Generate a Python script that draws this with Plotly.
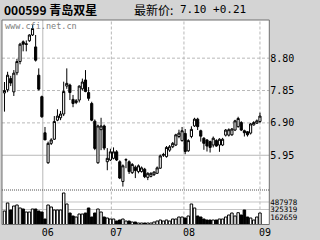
import plotly.graph_objects as go

W, H = 320, 240

# ---------------- data ----------------
opens = [7.78, 7.87, 8.20, 7.81, 8.37, 8.70, 9.28, 9.20, 9.31, 9.48,
         9.13, 8.30, 7.67, 6.61, 5.73, 6.30, 6.42, 6.98, 7.05, 7.16, 7.98,
         8.01, 7.59, 7.50, 7.57, 7.90, 8.16, 7.79, 7.47, 6.95, 5.73, 6.70,
         6.81, 5.76, 5.81, 5.86, 6.05, 5.76, 5.18, 5.81, 5.76, 5.44,
         5.60, 5.47, 5.47, 5.54, 5.30, 5.33, 5.38, 5.42, 5.57, 5.95,
         5.91, 6.10, 6.20, 6.25, 6.50, 6.38, 6.59, 6.08, 6.50, 6.81,
         7.01, 6.67, 6.45, 6.40, 6.35, 6.25, 6.38, 6.25, 6.25, 6.54,
         6.54, 6.55, 6.69, 6.79, 6.91, 6.67, 6.64, 6.60, 6.84, 6.89,
         6.94]
highs = [8.10, 8.40, 8.28, 8.45, 8.78, 9.25, 9.32, 9.32, 9.50, 9.77,
         9.48, 8.50, 7.70, 6.78, 6.35, 6.45, 7.10, 7.30, 7.25, 8.11, 8.50,
         8.05, 7.72, 7.60, 8.00, 8.20, 8.45, 7.95, 7.52, 7.00, 6.85, 7.05,
         6.85, 6.16, 6.14, 6.18, 6.10, 5.80, 5.68, 5.86, 5.80, 5.72,
         5.65, 5.68, 5.62, 5.58, 5.45, 5.45, 5.47, 5.62, 5.97, 6.02,
         6.22, 6.25, 6.34, 6.58, 6.70, 6.78, 6.72, 6.42, 6.80, 7.05,
         7.05, 6.70, 6.48, 6.42, 6.38, 6.50, 6.42, 6.45, 6.46, 6.72,
         6.74, 6.75, 6.99, 7.08, 6.95, 6.70, 6.66, 6.90, 6.95, 7.00,
         7.20]
lows = [7.23, 7.80, 7.98, 7.69, 8.30, 8.62, 9.00, 9.00, 9.28, 9.45,
        8.70, 7.85, 7.05, 6.40, 5.70, 6.25, 6.40, 6.95, 6.98, 7.10, 7.90,
        7.57, 7.36, 7.45, 7.50, 7.85, 7.80, 7.55, 6.95, 6.10, 5.70, 6.10,
        6.10, 5.51, 5.78, 5.83, 5.78, 5.25, 5.03, 5.57, 5.40, 5.40,
        5.28, 5.42, 5.44, 5.28, 5.22, 5.30, 5.34, 5.40, 5.55, 5.90,
        5.88, 6.05, 6.16, 6.22, 6.45, 6.35, 5.98, 6.05, 6.45, 6.78,
        6.69, 6.35, 6.11, 6.06, 6.03, 6.18, 6.20, 6.05, 6.22, 6.50,
        6.50, 6.52, 6.66, 6.76, 6.66, 6.50, 6.50, 6.56, 6.82, 6.87,
        6.90]
closes = [7.85, 8.30, 8.07, 8.36, 8.70, 9.21, 9.21, 9.22, 9.48, 9.67,
          8.74, 7.89, 7.08, 6.40, 6.30, 6.40, 6.94, 7.10, 7.16, 7.82, 8.06,
          7.79, 7.47, 7.55, 7.98, 8.10, 7.82, 7.62, 6.98, 6.15, 6.81, 6.81,
          6.16, 5.86, 6.05, 6.05, 5.81, 5.28, 5.64, 5.82, 5.47, 5.68,
          5.50, 5.64, 5.58, 5.32, 5.42, 5.42, 5.46, 5.58, 5.93, 5.97,
          6.18, 6.20, 6.30, 6.55, 6.60, 6.67, 6.06, 6.38, 6.71, 7.01,
          6.79, 6.51, 6.30, 6.22, 6.18, 6.45, 6.22, 6.42, 6.42, 6.69,
          6.70, 6.72, 6.96, 7.03, 6.69, 6.61, 6.55, 6.87, 6.91, 6.96,
          7.10]
volumes = [292800, 466300, 314500, 401200, 422900, 357900, 336200, 271100, 271100, 336200,
           336200, 292800, 271100, 119300, 422900, 379600, 314500, 314500, 314500, 683200, 444600,
           249400, 184400, 162700, 227700, 227700, 249400, 357900, 162700, 249400, 336200, 271100,
           162700, 141000, 119300, 119300, 75900, 97600, 119300, 75900, 75900, 54200,
           54200, 32500, 32500, 32500, 32500, 32500, 54200, 75900, 97600, 75900,
           97600, 75900, 119300, 119300, 162700, 162700, 141000, 184400, 444600, 357900,
           184400, 162700, 119300, 97600, 97600, 97600, 97600, 119300, 119300, 162700,
           206000, 249400, 184400, 256000, 206000, 314500, 162700, 141000, 97600, 162700,
           249400]

month_pos = [12.3, 34.3, 57.6, 82.0]
month_labels = ["06", "07", "08", "09"]
month_dash = ["solid", "3px,2px", "3px,2px", "3px,2px"]

price_ticks = [8.80, 7.85, 6.90, 5.95]
price_dash = ["3px,2px", "3px,2px", "3px,2px", "solid"]
vol_ticks = [487978, 325319, 162659]

title_code = "000599 青岛双星"
title_price_label = "最新价:"
title_price_value = "7.10 +0.21"
watermark = "www.cfi.net.cn"

# ---------------- geometry ----------------
X0, X1 = 2 / W, 271 / W
P_BOT, P_TOP = 1 - 190 / H, 1 - 20 / H
V_BOT, V_TOP = 1 - 224.5 / H, P_BOT

idx = list(range(len(opens)))
vol_colors = ["white" if c >= o else "black" for o, c in zip(opens, closes)]

fig = go.Figure()
fig.add_trace(go.Candlestick(
    x=idx, open=opens, high=highs, low=lows, close=closes,
    increasing=dict(line=dict(color="black", width=1), fillcolor="white"),
    decreasing=dict(line=dict(color="black", width=1), fillcolor="black"),
    whiskerwidth=0, xaxis="x", yaxis="y", showlegend=False, hoverinfo="skip"))
fig.add_trace(go.Bar(
    x=idx, y=volumes, marker=dict(color=vol_colors, line=dict(color="black", width=1)),
    xaxis="x2", yaxis="y2", showlegend=False, hoverinfo="skip"))

shapes = []
for p, d in zip(month_pos, month_dash):
    shapes.append(dict(type="line", xref="x", yref="paper", x0=p, x1=p, y0=V_BOT, y1=P_TOP,
                       line=dict(color="#b8b8b8", width=1, dash=d), layer="below"))
for p, d in zip(price_ticks, price_dash):
    shapes.append(dict(type="line", xref="paper", yref="y", x0=X0, x1=X1, y0=p, y1=p,
                       line=dict(color="#b8b8b8", width=1, dash=d), layer="below"))
for v in vol_ticks[:2]:
    shapes.append(dict(type="line", xref="paper", yref="y2", x0=X0, x1=X1, y0=v, y1=v,
                       line=dict(color="#c4c4c4", width=1), layer="below"))
shapes.append(dict(type="rect", xref="paper", yref="paper", x0=X0, x1=X1, y0=V_BOT, y1=P_TOP,
                   line=dict(color="#707070", width=1)))
shapes.append(dict(type="line", xref="paper", yref="paper", x0=X0, x1=X1, y0=P_BOT, y1=P_BOT,
                   line=dict(color="#505050", width=1, dash="1px,1px")))

mono = "DejaVu Sans Mono"
annotations = [
    dict(text="<b>" + title_code + "</b>", x=2 / W, y=1 - 10 / H, xref="paper", yref="paper",
         xanchor="left", yanchor="middle", showarrow=False,
         font=dict(family="Noto Sans CJK SC", size=12, color="black")),
    dict(text=title_price_label, x=133 / W, y=1 - 10 / H, xref="paper", yref="paper",
         xanchor="left", yanchor="middle", showarrow=False,
         font=dict(family="Noto Sans CJK SC", size=12, color="black")),
    dict(text=title_price_value, x=179 / W, y=1 - 10 / H, xref="paper", yref="paper",
         xanchor="left", yanchor="middle", showarrow=False,
         font=dict(family=mono, size=11, color="black")),
    dict(text=watermark, x=3 / W, y=1 - 26.5 / H, xref="paper", yref="paper",
         xanchor="left", yanchor="middle", showarrow=False,
         font=dict(family=mono, size=8.5, color="#808080")),
]

fig.update_layout(
    width=W, height=H, autosize=False,
    margin=dict(l=0, r=0, t=0, b=0),
    paper_bgcolor="#d4d4d4", plot_bgcolor="white",
    bargap=0.2, boxgap=0.02,
    shapes=shapes, annotations=annotations,
    xaxis=dict(domain=[X0, X1], range=[-0.8, 85.0], anchor="y", showticklabels=False,
               showgrid=False, zeroline=False, rangeslider=dict(visible=False), fixedrange=True),
    xaxis2=dict(domain=[X0, X1], matches="x", anchor="y2", tickmode="array",
                tickvals=month_pos, ticktext=month_labels, ticks="", showgrid=False,
                zeroline=False, ticklabelshift=5,
                tickfont=dict(family=mono, size=10, color="black")),
    yaxis=dict(domain=[P_BOT, P_TOP], range=[4.93, 9.92], anchor="x", side="right",
               tickmode="array", tickvals=price_ticks,
               ticktext=["%.2f" % v for v in price_ticks], ticks="", showgrid=False,
               zeroline=False, tickfont=dict(family=mono, size=10, color="black")),
    yaxis2=dict(domain=[V_BOT, V_TOP], range=[0, 748000], anchor="x2", side="right",
                tickmode="array", tickvals=vol_ticks, ticktext=[str(v) for v in vol_ticks],
                ticks="", showgrid=False, zeroline=False,
                tickfont=dict(family=mono, size=7.5, color="black")),
)

fig.write_html("out.html")
